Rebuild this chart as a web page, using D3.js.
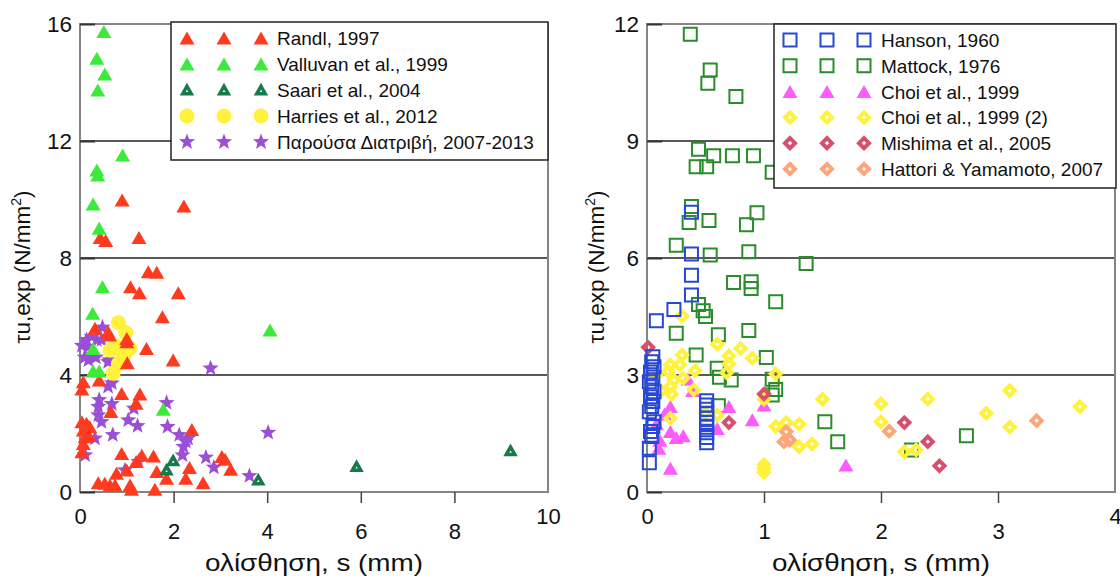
<!DOCTYPE html>
<html>
<head>
<meta charset="utf-8">
<script src="https://cdn.jsdelivr.net/npm/d3@7"></script>
<style>
  html, body { margin: 0; padding: 0; background: #fff; }
  svg { display: block; font-family: "Liberation Sans", Arial, sans-serif; }
</style>
</head>
<body>
<svg id="chart" width="1120" height="581"></svg>
<script>
// ---------- data: [slip s (mm), shear stress τu,exp (N/mm²)] ----------
const randl = [
  [0.43,8.70],[0.55,8.60],[1.26,8.70],[0.90,9.98],[2.22,9.78],
  [1.46,7.53],[1.64,7.51],[1.08,7.02],[1.27,6.81],[2.10,6.81],[1.76,5.99],
  [0.32,5.60],[0.60,5.48],[0.63,5.37],[1.00,5.25],[1.00,5.14],[1.42,4.91],[1.99,4.51],[1.01,4.42],
  [0.07,3.77],[0.04,3.52],[0.41,3.83],[0.89,3.37],[1.28,3.35],[1.20,3.03],[0.66,2.75],[2.39,2.14],
  [0.04,2.40],[0.14,2.35],[0.07,2.12],[0.21,2.23],[0.11,1.89],[0.18,1.95],[0.07,1.66],[0.04,1.38],
  [0.89,1.32],[1.32,1.26],[1.57,1.23],[1.20,1.04],[1.00,0.75],[0.78,0.64],[1.64,0.70],[1.85,0.47],
  [2.26,0.47],[2.34,0.84],[2.63,0.32],[3.03,1.21],[3.10,1.12],[3.22,0.78],
  [0.39,0.32],[0.53,0.30],[0.64,0.24],[0.75,0.24],[1.07,0.24],[1.10,0.09],[1.60,0.09]
];
const valluvan = [
  [0.51,15.74],[0.36,14.83],[0.53,14.29],[0.38,13.74],[0.91,11.52],[0.36,11.01],[0.38,10.84],
  [0.28,9.85],[0.41,9.02],[0.48,7.02],[0.27,6.11],[0.28,4.91],[0.28,4.14],[0.41,4.14],
  [4.06,5.54],[1.78,2.83]
];
const saari = [[1.85,0.75],[1.99,1.07],[3.81,0.41],[5.91,0.87],[9.20,1.41]];
const harries = [[0.82,5.79],[0.98,5.45],[1.07,4.91],[0.64,4.85],[0.93,4.63],[0.82,4.38],[0.71,4.06],[0.76,5.00]];
const present = [
  [0.48,5.63],[0.14,5.20],[0.25,5.31],[0.36,5.20],[0.46,5.20],[0.18,4.97],[0.25,4.68],[0.18,4.51],
  [0.34,4.60],[0.63,4.51],[0.60,4.45],[2.79,4.23],[0.68,3.72],[0.60,3.60],[0.41,3.15],[0.39,2.92],
  [0.68,3.01],[1.15,2.86],[1.85,3.05],[0.39,2.63],[0.46,2.40],[1.03,2.46],[1.23,2.26],[1.87,2.23],
  [0.70,1.95],[2.12,1.95],[2.31,1.83],[2.26,1.72],[2.21,1.55],[2.19,1.26],[0.32,1.83],[0.11,1.26],
  [2.69,1.18],[2.86,0.84],[3.62,0.55],[4.02,2.03],[0.96,0.75],[1.25,1.04],[0.04,5.00],[0.10,4.60]
];

const hanson = [
  [0.05,3.47],[0.04,3.34],[0.06,3.21],[0.03,3.08],[0.05,2.95],[0.02,2.83],[0.04,2.70],[0.06,2.57],
  [0.03,2.44],[0.05,2.32],[0.04,2.19],[0.02,2.06],[0.06,1.80],[0.05,1.68],[0.03,1.55],[0.04,1.42],
  [0.02,1.12],[0.02,0.75],
  [0.51,2.34],[0.51,2.23],[0.51,2.12],[0.51,2.02],[0.51,1.89],[0.51,1.78],[0.51,1.66],[0.51,1.52],
  [0.51,1.40],[0.51,1.26],
  [0.08,4.39],[0.23,4.68],[0.38,5.05],[0.38,5.56],[0.38,6.10],[0.38,7.17]
];
const mattock = [
  [0.37,11.74],[0.54,10.82],[0.52,10.48],[0.76,10.14],[0.44,8.79],[0.57,8.62],[0.73,8.62],[0.91,8.62],
  [0.42,8.34],[0.51,8.34],[1.07,8.20],[0.38,7.32],[0.36,6.91],[0.53,6.96],[0.94,7.16],[0.85,6.85],
  [0.25,6.33],[0.54,6.08],[0.87,6.16],[1.36,5.86],[0.74,5.37],[0.89,5.39],[0.89,5.22],[1.10,4.88],
  [0.44,4.81],[0.48,4.65],[0.50,4.50],[0.25,4.07],[0.61,4.03],[0.87,4.14],[0.42,3.51],[1.02,3.45],
  [0.60,3.17],[0.62,2.94],[0.72,2.87],[1.07,2.89],[1.10,2.63],[1.07,2.49],[0.61,2.21],[1.52,1.80],
  [1.63,1.29],[2.73,1.44],[2.26,1.08]
];
const choi = [
  [0.70,2.19],[0.90,1.85],[1.00,2.23],[0.20,2.19],[0.20,1.55],[0.31,1.44],[0.11,1.33],[0.10,1.12],
  [0.20,0.61],[0.60,1.63],[0.39,2.60],[1.70,0.69],[0.08,1.75],[0.15,2.00],[0.35,2.90],[0.25,1.40]
];
const choi2 = [
  [0.30,4.51],[0.60,3.79],[0.80,3.68],[0.70,3.49],[0.90,3.43],[0.70,3.28],[0.68,3.06],[1.10,3.03],
  [0.30,3.51],[0.20,3.26],[0.28,3.26],[0.41,3.11],[0.18,3.09],[0.23,2.87],[0.31,2.92],[0.20,2.70],
  [0.40,2.62],[0.21,2.51],[1.00,2.38],[1.50,2.38],[0.20,1.89],[0.60,1.97],[0.50,2.02],[1.10,1.68],
  [1.19,1.78],[1.30,1.74],[1.30,1.16],[1.41,1.23],[1.00,0.70],[1.00,0.60],[1.00,0.50],[2.00,2.26],
  [2.00,1.80],[2.40,2.38],[2.20,1.03],[2.30,1.08],[2.90,2.02],[3.10,2.60],[3.10,1.66],[3.70,2.19],
  [0.12,2.60],[0.08,3.00]
];
const mishima = [[0.01,3.71],[0.70,1.78],[1.00,2.51],[2.20,1.78],[2.40,1.29],[2.50,0.67]];
const hattori = [[1.17,1.29],[1.22,1.33],[1.19,1.55],[2.07,1.56],[3.33,1.83]];

// tick values
const leftXTicks = [0, 2, 4, 6, 8, 10];
const leftYTicks = [0, 4, 8, 12, 16];
const rightXTicks = [0, 1, 2, 3, 4];
const rightYTicks = [0, 3, 6, 9, 12];

// legend labels
const leftLabels = ["Randl, 1997", "Valluvan et al., 1999", "Saari et al., 2004", "Harries et al., 2012", "Παρούσα Διατριβή, 2007-2013"];
const rightLabels = ["Hanson, 1960", "Mattock, 1976", "Choi et al., 1999", "Choi et al., 1999 (2)", "Mishima et al., 2005", "Hattori & Yamamoto, 2007"];

// ---------- marker shapes ----------
function triPath(w, h) { return `M0,${-h/2}L${w/2},${h/2}L${-w/2},${h/2}Z`; }
function starPath(R, r) {
  let p = "";
  for (let i = 0; i < 10; i++) {
    const a = -Math.PI / 2 + i * Math.PI / 5;
    const rad = i % 2 === 0 ? R : r;
    p += (i ? "L" : "M") + (rad * Math.cos(a)).toFixed(2) + "," + (rad * Math.sin(a)).toFixed(2);
  }
  return p + "Z";
}
function diamondPath(r) { return `M0,${-r}L${r},0L0,${r}L${-r},0Z`; }
function squarePath(h) { return `M${-h},${-h}H${h}V${h}H${-h}Z`; }
function circlePath(r) { return `M${-r},0A${r},${r} 0 1,0 ${r},0A${r},${r} 0 1,0 ${-r},0Z`; }

const styles = {
  randl:    { d: triPath(15, 13), fill: "#ff3b1f", stroke: "none", sw: 0 },
  valluvan: { d: triPath(15, 13), fill: "#3bea3b", stroke: "none", sw: 0 },
  saari:    { d: triPath(8.5, 7.5), fill: "none", stroke: "#177a4a", sw: 3.5 },
  harries:  { d: circlePath(7.5), fill: "#fff13c", stroke: "none", sw: 0 },
  present:  { d: starPath(8.5, 3.6), fill: "#9b4fd6", stroke: "none", sw: 0 },
  hanson:   { d: squarePath(6.5), fill: "none", stroke: "#2747d4", sw: 2 },
  mattock:  { d: squarePath(6.5), fill: "none", stroke: "#2a8c2a", sw: 2 },
  choi:     { d: triPath(15, 13), fill: "#fb5cfb", stroke: "none", sw: 0 },
  choi2:    { d: diamondPath(5), fill: "none", stroke: "#fff13c", sw: 4 },
  mishima:  { d: diamondPath(5), fill: "none", stroke: "#d6506e", sw: 4 },
  hattori:  { d: diamondPath(5), fill: "none", stroke: "#ffa57a", sw: 4 }
};

const svg = d3.select("#chart");
svg.append("rect").attr("width", 1120).attr("height", 581).attr("fill", "#fff");

function panel(cfg) {
  const x = d3.scaleLinear().domain(cfg.xDomain).range([cfg.x0, cfg.x1]);
  const y = d3.scaleLinear().domain(cfg.yDomain).range([492, 24]);
  const g = svg.append("g");

  // horizontal gridlines
  g.append("g").selectAll("line").data(cfg.yTicks.slice(1, -1)).join("line")
    .attr("x1", cfg.x0).attr("x2", cfg.x1)
    .attr("y1", d => y(d)).attr("y2", d => y(d))
    .attr("stroke", "#222").attr("stroke-width", 1.3);

  // plot frame
  g.append("rect")
    .attr("x", cfg.x0).attr("y", 24).attr("width", cfg.x1 - cfg.x0).attr("height", 468)
    .attr("fill", "none").attr("stroke", "#858585").attr("stroke-width", 2);

  // y axis: inward ticks, labels on the left
  const ya = g.append("g").attr("transform", `translate(${cfg.x0},0)`)
    .call(d3.axisLeft(y).tickValues(cfg.yTicks).tickFormat(d3.format("d")).tickSize(-15).tickPadding(8));
  ya.select(".domain").remove();
  ya.selectAll(".tick line").attr("stroke", "#333").attr("stroke-width", 2);
  ya.selectAll(".tick text").attr("font-size", 22.5).attr("fill", "#111")
    .attr("font-family", "Liberation Sans, Arial, sans-serif");

  // x axis: outward ticks, staggered labels
  const xa = g.append("g").attr("transform", "translate(0,492)")
    .call(d3.axisBottom(x).tickValues(cfg.xTicks).tickFormat(d3.format("d")).tickSize(11).tickPadding(20));
  xa.select(".domain").remove();
  const n = cfg.xTicks.length;
  xa.selectAll(".tick line").attr("stroke", "#444").attr("stroke-width", 1.5)
    .attr("opacity", (d, i) => (i === 0 || i === n - 1) ? 0 : 1);
  xa.selectAll(".tick text").attr("font-size", 22).attr("fill", "#111")
    .attr("font-family", "Liberation Sans, Arial, sans-serif")
    .attr("y", (d, i) => (i === 0 || i === n - 1) ? 16 : 31);

  // axis titles
  g.append("text")
    .attr("x", (cfg.x0 + cfg.x1) / 2).attr("y", 571)
    .attr("text-anchor", "middle").attr("font-size", 24).attr("fill", "#111")
    .attr("textLength", 218).attr("lengthAdjust", "spacingAndGlyphs")
    .text("ολίσθηση, s (mm)");
  const yt = g.append("text")
    .attr("transform", `translate(${cfg.yTitleX},267) rotate(-90)`)
    .attr("text-anchor", "middle").attr("font-size", 22.5).attr("fill", "#111");
  yt.append("tspan").text("τu,exp (N/mm");
  yt.append("tspan").attr("font-size", 14).attr("dy", -9).text("2");
  yt.append("tspan").attr("dy", 9).text(")");

  // data series
  cfg.series.forEach(s => {
    const st = styles[s.key];
    g.append("g").selectAll("path").data(s.data).join("path")
      .attr("d", st.d)
      .attr("transform", d => `translate(${x(d[0])},${y(d[1])})`)
      .attr("fill", st.fill).attr("stroke", st.stroke).attr("stroke-width", st.sw)
      .attr("stroke-linejoin", "miter");
  });

  // legend
  const L = cfg.legend;
  const lg = g.append("g");
  lg.append("rect").attr("x", L.x).attr("y", L.y).attr("width", L.w).attr("height", L.h)
    .attr("fill", "#fff").attr("stroke", "#222").attr("stroke-width", 1.5);
  L.keys.forEach((k, i) => {
    const cy = L.y + L.first + i * L.step;
    const st = styles[k];
    L.mx.forEach(mx => {
      lg.append("path").attr("d", st.d).attr("transform", `translate(${mx},${cy})`)
        .attr("fill", st.fill).attr("stroke", st.stroke).attr("stroke-width", st.sw);
    });
    lg.append("text").attr("x", L.tx).attr("y", cy + 7).attr("font-size", 19).attr("fill", "#111")
      .text(L.labels[i]);
  });
}

panel({
  x0: 80, x1: 548, xDomain: [0, 10], yDomain: [0, 16],
  xTicks: leftXTicks, yTicks: leftYTicks, yTitleX: 30,
  series: [
    { key: "present", data: present },
    { key: "harries", data: harries },
    { key: "randl", data: randl },
    { key: "valluvan", data: valluvan },
    { key: "saari", data: saari }
  ],
  legend: { x: 171, y: 22, w: 377, h: 138, first: 16, step: 26,
            mx: [187, 224, 261], tx: 277,
            keys: ["randl", "valluvan", "saari", "harries", "present"], labels: leftLabels }
});

panel({
  x0: 647, x1: 1115, xDomain: [0, 4], yDomain: [0, 12],
  xTicks: rightXTicks, yTicks: rightYTicks, yTitleX: 604,
  series: [
    { key: "mattock", data: mattock },
    { key: "choi", data: choi },
    { key: "choi2", data: choi2 },
    { key: "mishima", data: mishima },
    { key: "hattori", data: hattori },
    { key: "hanson", data: hanson }
  ],
  legend: { x: 774, y: 24, w: 342, h: 164, first: 16, step: 25.8,
            mx: [790, 827, 864], tx: 881,
            keys: ["hanson", "mattock", "choi", "choi2", "mishima", "hattori"], labels: rightLabels }
});
</script>
</body>
</html>
